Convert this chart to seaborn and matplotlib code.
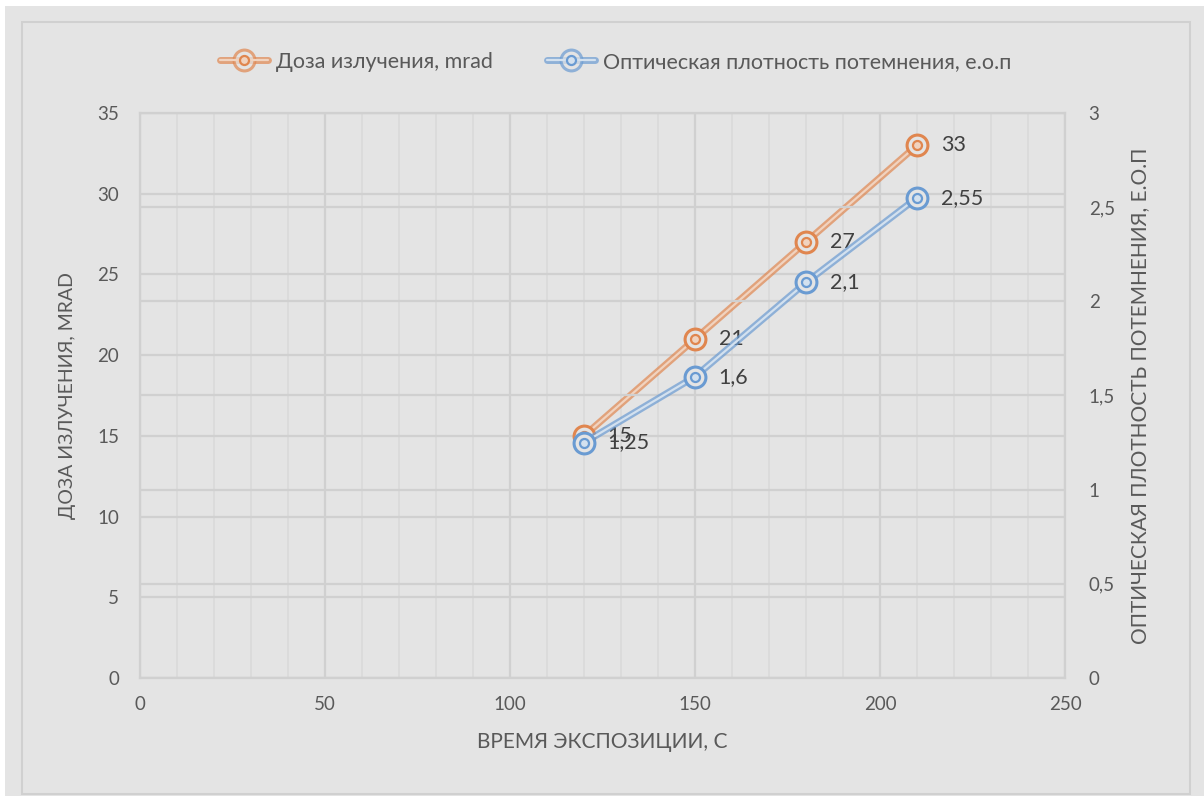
import matplotlib
matplotlib.use("Agg")
import matplotlib.pyplot as plt
from matplotlib.patches import Rectangle
from matplotlib.lines import Line2D
from matplotlib.legend_handler import HandlerTuple
from matplotlib.ticker import MultipleLocator, FuncFormatter
import seaborn as sns
import pandas as pd

# Exposure time, s
exposure_time = [120, 150, 180, 210]
# Radiation dose, mrad (left axis)
dose = [15, 21, 27, 33]
dose_labels = ["15", "21", "27", "33"]
# Optical density of darkening, o.d.u. (right axis)
density = [1.25, 1.6, 2.1, 2.55]
density_labels = ["1,25", "1,6", "2,1", "2,55"]

x_ticks = [0, 50, 100, 150, 200, 250]
dose_ticks = [0, 5, 10, 15, 20, 25, 30, 35]
density_ticks = [0, 0.5, 1, 1.5, 2, 2.5, 3]

sns.set_style("white")
plt.rcParams["font.family"] = ["Lato", "DejaVu Sans"]

BG = "#e4e4e4"
GRID = "#d0d0d0"
GRID_MINOR = "#dadada"
TXT = "#595959"
ORANGE = "#e0864f"
BLUE = "#6a9bd2"
ORANGE_IN = "#f1d3bf"
BLUE_IN = "#d3e1ef"

W, H = 1204, 796
fig = plt.figure(figsize=(W / 100, H / 100), dpi=100)
fig.patch.set_facecolor("white")
fig.add_artist(Rectangle((5 / W, 0), 1 - 5 / W, 1 - 6 / H, transform=fig.transFigure,
                         facecolor=BG, edgecolor="none", zorder=-10))
fig.add_artist(Rectangle((22 / W, 2 / H), (1190 - 22) / W, (794 - 22) / H, transform=fig.transFigure,
                         facecolor="none", edgecolor=GRID, lw=1.5, zorder=-9))

ax = fig.add_axes([140 / W, 1 - 678 / H, (1065 - 140) / W, (678 - 113) / H])
ax.set_facecolor(BG)
ax2 = ax.twinx()

df = pd.DataFrame({"t": exposure_time, "dose": dose, "density": density})

OUTER = dict(lw=5, alpha=0.7, ms=15, mew=2.2)
INNER = dict(lw=1.6, ms=6.5, mew=1.6)


def draw_series(axis, ycol, color, inner, labels):
    sns.lineplot(data=df, x="t", y=ycol, ax=axis, color=color, lw=OUTER["lw"],
                 alpha=OUTER["alpha"], zorder=3)
    sns.lineplot(data=df, x="t", y=ycol, ax=axis, color=inner, lw=INNER["lw"], zorder=4)
    axis.plot(df["t"], df[ycol], ls="none", marker="o", ms=OUTER["ms"], mfc=BG,
              mec=color, mew=OUTER["mew"], zorder=5)
    axis.plot(df["t"], df[ycol], ls="none", marker="o", ms=INNER["ms"], mfc=inner,
              mec=color, mew=INNER["mew"], zorder=6)
    for xv, yv, lab in zip(df["t"], df[ycol], labels):
        axis.annotate(lab, (xv, yv), xytext=(17, 0), textcoords="offset points",
                      ha="left", va="center", fontsize=15.5, color="#404040", zorder=7)


draw_series(ax, "dose", ORANGE, ORANGE_IN, dose_labels)
draw_series(ax2, "density", BLUE, BLUE_IN, density_labels)

# Axis limits and ticks
ax.set_xlim(0, 250)
ax.set_ylim(0, 35)
ax2.set_ylim(0, 3)
ax.set_xticks(x_ticks)
ax.set_yticks(dose_ticks)
ax2.set_yticks(density_ticks)
ax.xaxis.set_minor_locator(MultipleLocator(10))
ax2.yaxis.set_major_formatter(FuncFormatter(lambda v, p: f"{v:g}".replace(".", ",")))

# Gridlines: major/minor vertical, horizontal from both value axes
ax.grid(which="major", axis="x", color=GRID, lw=1.6, zorder=0)
ax.grid(which="minor", axis="x", color=GRID_MINOR, lw=1.2, zorder=0)
ax.grid(which="major", axis="y", color=GRID, lw=1.6, zorder=0)
ax2.grid(which="major", axis="y", color=GRID, lw=1.6, zorder=0)
ax.set_axisbelow(True)
ax2.set_axisbelow(True)

for s in ax2.spines.values():
    s.set_visible(False)
for s in ax.spines.values():
    s.set_visible(True)
    s.set_color(GRID)
    s.set_linewidth(1.6)

ax.tick_params(axis="both", which="both", length=0, labelsize=13.5, colors=TXT)
ax.tick_params(axis="y", pad=15)
ax.tick_params(axis="x", pad=13)
ax2.tick_params(axis="y", length=0, labelsize=13.5, colors=TXT, pad=17)

ax.set_xlabel("ВРЕМЯ ЭКСПОЗИЦИИ, С", fontsize=15, color=TXT, labelpad=14)
ax.set_ylabel("ДОЗА ИЗЛУЧЕНИЯ, MRAD", fontsize=14, color=TXT, labelpad=15)
ax2.set_ylabel("ОПТИЧЕСКАЯ ПЛОТНОСТЬ ПОТЕМНЕНИЯ, Е.О.П", fontsize=15, color=TXT, labelpad=11)


def legend_handle(color, inner):
    return (Line2D([], [], color=color, lw=OUTER["lw"], alpha=OUTER["alpha"], marker="o",
                   ms=OUTER["ms"], mfc=BG, mec=color, mew=OUTER["mew"]),
            Line2D([], [], color=inner, lw=INNER["lw"], marker="o", ms=INNER["ms"],
                   mfc=inner, mec=color, mew=INNER["mew"]))


fig.legend([legend_handle(ORANGE, ORANGE_IN), legend_handle(BLUE, BLUE_IN)],
           ["Доза излучения, mrad", "Оптическая плотность потемнения, е.о.п"],
           handler_map={tuple: HandlerTuple(ndivide=1, pad=0)},
           loc="center", bbox_to_anchor=(616 / W, 1 - 62 / H), ncol=2, frameon=False,
           fontsize=15.5, labelcolor=TXT, handlelength=2.2, columnspacing=2.5,
           handletextpad=0.4, numpoints=1)

fig.savefig("out.png", dpi=100, facecolor=fig.get_facecolor())
